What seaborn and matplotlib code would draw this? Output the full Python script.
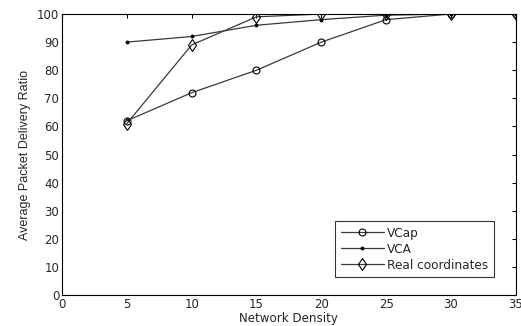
import pandas as pd
import numpy as np
import matplotlib.pyplot as plt
import seaborn as sns

sns.set_style("white")
plt.rcParams['font.family'] = ['DejaVu Sans']

density = [5, 10, 15, 20, 25, 30, 35]
vcap = [62, 72, 80, 90, 98, 100, 100]
vca = [90, 92, 96, 98, 99.6, 100, 100]
real = [61, 89, 99, 100, 100, 100, 100]

df = pd.DataFrame({
    'Network Density': density * 3,
    'ratio': vcap + vca + real,
    'series': ['VCap'] * 7 + ['VCA'] * 7 + ['Real coordinates'] * 7,
})

fig = plt.figure(figsize=(5.21, 3.26), dpi=100)
ax = fig.add_axes([0.119, 0.095, 0.871, 0.862])

# marker, size, face
styles = {'VCap': ('o', 5, 'none'), 'VCA': ('.', 4, 'black'), 'Real coordinates': ('d', 6, 'none')}
for name in ['VCap', 'VCA', 'Real coordinates']:
    m, ms, fc = styles[name]
    sub = df[df['series'] == name]
    sns.lineplot(data=sub, x='Network Density', y='ratio', ax=ax, color='#3a3a3a',
                 lw=0.9, marker=m, markersize=ms, markerfacecolor=fc,
                 markeredgecolor='black', markeredgewidth=0.8, label=name)

ax.set_xlim(0, 35)
ax.set_ylim(0, 100)
ax.set_xticks(range(0, 36, 5))
ax.set_yticks(range(0, 101, 10))
ax.tick_params(direction='in', top=True, right=True, length=3, labelsize=8.5,
               color='black', pad=2)
for s in ax.spines.values():
    s.set_color('black')
    s.set_linewidth(0.8)
ax.set_xlabel('Network Density', fontsize=8.6, labelpad=1)
ax.set_ylabel('Average Packet Delivery Ratio', fontsize=9, labelpad=4,
              family=['Liberation Sans Narrow', 'Liberation Sans', 'DejaVu Sans'])

leg = ax.legend(loc='lower right', bbox_to_anchor=(0.9515, 0.064), borderaxespad=0,
                fontsize=8.7, frameon=True, fancybox=False, edgecolor='black',
                handlelength=3.6, handletextpad=0.25, labelspacing=0.25,
                borderpad=0.45)
leg.get_frame().set_linewidth(0.8)

fig.savefig('out.png', dpi=100)
